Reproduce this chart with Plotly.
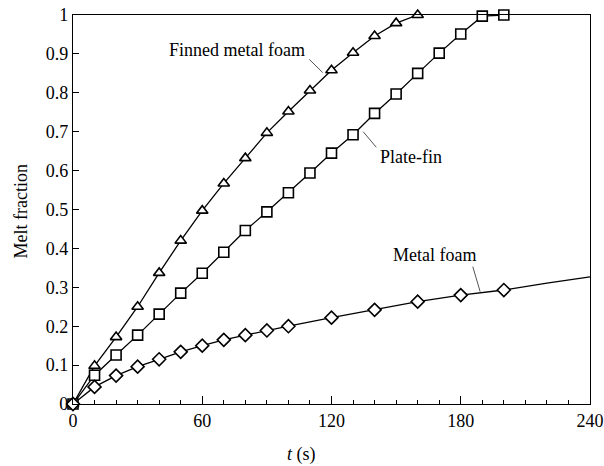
import plotly.graph_objects as go

# ---- data ----
t_finned = [0, 10, 20, 30, 40, 50, 60, 70, 80, 90, 100, 110, 120, 130, 140, 150, 160]
finned = [0, 0.098, 0.172, 0.25, 0.337, 0.42, 0.497, 0.567, 0.632, 0.697, 0.752,
          0.806, 0.858, 0.903, 0.946, 0.979, 1.0]

t_plate = [0, 10, 20, 30, 40, 50, 60, 70, 80, 90, 100, 110, 120, 130, 140, 150,
           160, 170, 180, 190, 200]
plate = [0, 0.074, 0.126, 0.177, 0.231, 0.285, 0.336, 0.39, 0.446, 0.494, 0.543,
         0.594, 0.645, 0.692, 0.747, 0.797, 0.85, 0.902, 0.951, 0.997, 1.0]

t_foam = [0, 10, 20, 30, 40, 50, 60, 70, 80, 90, 100, 120, 140, 160, 180, 200]
foam = [0, 0.044, 0.073, 0.096, 0.115, 0.134, 0.15, 0.165, 0.177, 0.189, 0.2,
        0.222, 0.242, 0.263, 0.28, 0.293]
t_foam_tail = [220, 240]
foam_tail = [0.311, 0.327]

x_ticks = [0, 60, 120, 180, 240]
labels = ["Finned metal foam", "Plate-fin", "Metal foam"]

FONT = "Liberation Serif"

fig = go.Figure()

# metal foam line (continues past the last marker)
fig.add_trace(go.Scatter(x=t_foam + t_foam_tail, y=foam + foam_tail, mode="lines",
                         line=dict(color="black", width=1.3), showlegend=False,
                         cliponaxis=False))

marker_style = dict(color="white", size=10, line=dict(color="black", width=1.6))

fig.add_trace(go.Scatter(x=t_finned, y=finned, mode="lines+markers", name=labels[0],
                         line=dict(color="black", width=1.3),
                         marker=dict(symbol="triangle-up", **marker_style),
                         showlegend=False, cliponaxis=False))
fig.add_trace(go.Scatter(x=t_plate, y=plate, mode="lines+markers", name=labels[1],
                         line=dict(color="black", width=1.3),
                         marker=dict(symbol="square", **marker_style),
                         showlegend=False, cliponaxis=False))
fig.add_trace(go.Scatter(x=t_foam, y=foam, mode="markers", name=labels[2],
                         marker=dict(symbol="diamond", **marker_style),
                         showlegend=False, cliponaxis=False))

# curve labels
fig.add_annotation(x=76, y=0.91, text=labels[0], showarrow=False,
                   font=dict(family=FONT, size=18, color="black"))
fig.add_annotation(x=157, y=0.635, text=labels[1], showarrow=False,
                   font=dict(family=FONT, size=18, color="black"))
fig.add_annotation(x=168, y=0.383, text=labels[2], showarrow=False,
                   font=dict(family=FONT, size=18, color="black"))

# leader lines
for x0, y0, x1, y1 in [(109.7, 0.886, 115.9, 0.852),
                       (134.7, 0.700, 140.8, 0.660),
                       (185.6, 0.353, 189.0, 0.289)]:
    fig.add_shape(type="line", x0=x0, y0=y0, x1=x1, y1=y1, xref="x", yref="y",
                  line=dict(color="#555555", width=1))

# axis titles
fig.add_annotation(xref="paper", yref="paper", x=0.4425, y=-0.131,
                   text="<i>t</i> (s)", showarrow=False, yanchor="middle",
                   font=dict(family=FONT, size=18, color="black"))
fig.add_annotation(xref="paper", yref="paper", x=-0.1015, y=0.4936,
                   text="Melt fraction", showarrow=False, textangle=-90,
                   xanchor="center", yanchor="middle",
                   font=dict(family=FONT, size=18, color="black"))

fig.update_xaxes(range=[0, 240], tickvals=x_ticks, ticks="inside", ticklen=8,
                 tickwidth=1, tickcolor="black", ticklabeloverflow="allow",
                 automargin=False,
                 minor=dict(dtick=10, ticks="inside", ticklen=4, tickcolor="black"),
                 showline=True, linecolor="black", linewidth=1.2, mirror=True,
                 showgrid=False, zeroline=False,
                 tickfont=dict(family=FONT, size=18, color="black"))
fig.update_yaxes(range=[0, 1], dtick=0.1, ticks="inside", ticklen=6,
                 tickwidth=1, tickcolor="black", automargin=False,
                 showline=True, linecolor="black", linewidth=1.2, mirror=True,
                 showgrid=False, zeroline=False,
                 tickfont=dict(family=FONT, size=18, color="black"))

fig.update_layout(width=604, height=466, autosize=False,
                  plot_bgcolor="white", paper_bgcolor="white",
                  font=dict(family=FONT, size=18, color="black"),
                  margin=dict(l=73, r=14, t=15, b=62), showlegend=False)

fig.write_html("out.html",
               config={"responsive": False, "displayModeBar": False},
               post_script="document.body.style.margin='0px';"
                           "document.body.style.overflow='hidden';")
